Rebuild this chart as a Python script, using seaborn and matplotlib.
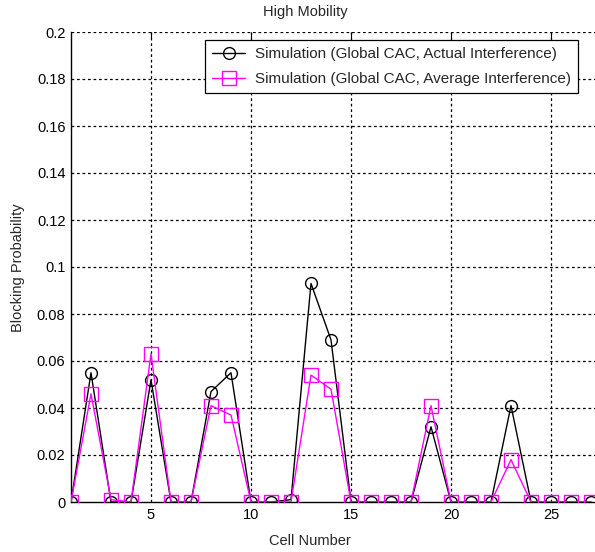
import matplotlib
matplotlib.use("Agg")
import matplotlib.pyplot as plt
import seaborn as sns
import numpy as np

cells = list(range(1, 28))
actual = [0, 0.055, 0, 0, 0.052, 0, 0, 0.047, 0.055, 0, 0, 0.001, 0.093, 0.069,
          0, 0, 0, 0, 0.032, 0, 0, 0, 0.041, 0, 0, 0, 0]
average = [0, 0.046, 0.001, 0, 0.063, 0, 0, 0.041, 0.037, 0, 0, 0, 0.054, 0.048,
           0, 0, 0, 0, 0.041, 0, 0, 0, 0.018, 0, 0, 0, 0]
series_labels = ["Simulation (Global CAC, Actual Interference)",
                 "Simulation (Global CAC, Average Interference)"]
yticks = [0, 0.02, 0.04, 0.06, 0.08, 0.1, 0.12, 0.14, 0.16, 0.18, 0.2]
ytick_labels = ["0", "0.02", "0.04", "0.06", "0.08", "0.1", "0.12", "0.14", "0.16", "0.18", "0.2"]
xticks = [5, 10, 15, 20, 25]

sns.set_style("white")
plt.rcParams['font.family'] = ['Liberation Sans', 'DejaVu Sans']

W, H = 595, 552
fig = plt.figure(figsize=(W / 100, H / 100), dpi=100)
ax = fig.add_axes([71 / W, 50 / H, 580 / W, 470 / H])

sns.lineplot(x=cells, y=actual, ax=ax, color="black", linewidth=1.0, marker="o",
             markersize=8.5, markerfacecolor="none", markeredgecolor="black",
             markeredgewidth=1.0, label=series_labels[0], zorder=3)
sns.lineplot(x=cells, y=average, ax=ax, color="#ff00ff", linewidth=1.0, marker="s",
             markersize=9.5, markerfacecolor="none", markeredgecolor="#ff00ff",
             markeredgewidth=1.0, label=series_labels[1], zorder=4)

ax.set_xlim(1, 30)
ax.set_ylim(0, 0.2)
ax.set_xticks(xticks)
ax.set_xticklabels([str(v) for v in xticks])
ax.set_yticks(yticks)
ax.set_yticklabels(ytick_labels)

dash = (0, (2.2, 2.2))
for v in xticks:
    ax.axvline(v, color="black", linewidth=0.9, linestyle=dash, zorder=1)
for v in yticks[1:]:
    ax.axhline(v, color="black", linewidth=0.9, linestyle=dash, zorder=1)

for s in ["top", "right"]:
    ax.spines[s].set_visible(False)
for s in ["left", "bottom"]:
    ax.spines[s].set_color("black")
    ax.spines[s].set_linewidth(1.0)

ax.tick_params(axis="both", direction="in", length=4, width=0.8, colors="black",
               labelsize=10.5, top=True, right=False, pad=4)

ax.set_xlabel("")
ax.set_ylabel("")
fig.text(305 / W, 1 - 12 / H, "High Mobility", ha="center", va="center", fontsize=10.5)
fig.text(310 / W, 1 - 541 / H, "Cell Number", ha="center", va="center", fontsize=10.5)
fig.text(18 / W, 1 - 268 / H, "Blocking Probability", ha="center", va="center",
         rotation=90, fontsize=10.5)

leg = ax.legend(loc="upper left", bbox_to_anchor=(205 / W, 1 - 40 / H),
                bbox_transform=fig.transFigure, fontsize=11,
                frameon=True, fancybox=False, edgecolor="black", framealpha=1,
                borderpad=0.45, handlelength=2.2, labelspacing=0.75, handletextpad=0.6,
                borderaxespad=0)
leg.get_frame().set_linewidth(0.9)

fig.savefig("out.png", dpi=100)
